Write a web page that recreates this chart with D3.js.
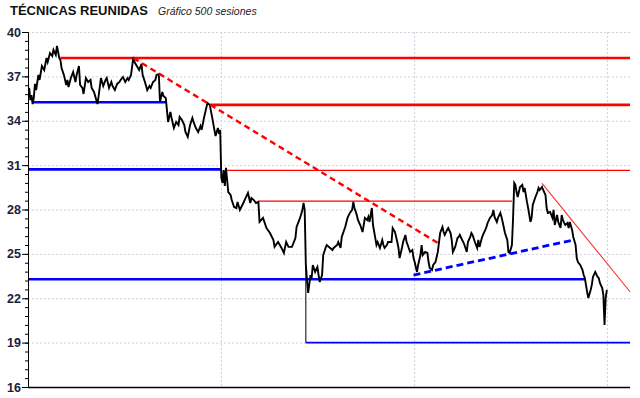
<!DOCTYPE html>
<html>
<head>
<meta charset="utf-8">
<script src="https://cdn.jsdelivr.net/npm/d3@7"></script>
<style>
  body { margin: 0; background: #fff; }
  svg { display: block; }
</style>
</head>
<body>
<div id="chart"></div>
<script>
const width = 640;
const height = 398;

// Price path, sessions 0..500 (approximate closes)
const sessions = [1,2,3,4,5,6,7,9,10,12,14,16,17,19,21,22,24,25,26,27,28,29,31,33,34,35,37,39,41,42,44,45,47,48,50,52,54,55,57,59,60,61,63,65,67,68,70,72,73,75,77,79,80,82,84,86,87,89,91,92,94,96,98,99,101,103,105,106,108,110,111,113,114,116,117,119,121,123,124,126,128,130,131,133,135,136,138,140,142,143,145,147,149,150,152,154,155,157,159,161,162,164,165,166,167,168,169,170,171,173,175,176,178,180,181,183,186,188,190,192,193,195,197,199,200,203,206,209,212,213,216,219,221,223,225,228,231,232,235,237,238,239,
  240,241,242,244,245,246,248,250,251,252,254,255,257,258,261,263,264,267,268,270,271,274,276,278,280,281,282,284,285,287,289,290,291,293,294,295,297,298,300,301,302,304,306,307,308,310,311,314,315,317,319,320,321,323,324,326,327,328,330,332,333,334,336,337,339,340,341,343,345,346,347,349,350,352,353,354,356,358,359,360,362,363,365,366,367,369,371,372,373,375,376,377,379,380,382,383,384,386,388,389,390,392,393,395,396,397,399,401,402,403,405,406,408,409,410,412,414,415,416,418,419,420,421,422,423,425,427,428,429,431,432,434,435,436,438,440,441,442,444,445,447,448,449,451,453,454,455,457,458,460,461,462,464,466,467,468,470,471,473,474,475,477,479,480,481,483,484,486,487,488,490,492,493,494,496,497,498,499,500];
const closes = [36.22,35.40,35.74,35.13,35.54,36.49,36.08,37.10,36.76,37.70,37.43,38.25,37.97,38.58,38.38,38.79,38.45,39.06,38.65,38.25,38.11,37.57,37.10,36.42,36.76,36.28,36.89,37.30,36.62,37.10,37.70,36.42,36.22,35.81,36.89,36.62,36.76,36.22,35.95,35.40,35.13,35.67,36.89,36.35,36.76,36.89,36.22,36.62,36.35,36.08,36.49,36.62,36.76,36.96,36.62,36.89,36.76,37.10,38.31,37.97,37.70,37.43,37.84,37.10,36.62,36.08,36.35,36.22,36.62,36.76,37.10,37.16,35.27,35.95,35.67,35.54,33.92,34.59,34.19,33.51,33.92,33.71,34.26,34.05,33.71,33.24,32.90,33.71,34.19,33.92,33.51,33.24,33.65,33.38,34.19,34.87,35.20,35.07,34.26,33.38,32.97,33.51,33.11,33.38,30.13,29.79,30.67,29.59,30.81,29.18,28.98,28.64,28.17,28.10,28.51,27.97,28.44,28.78,29.12,28.44,28.78,28.64,28.44,28.51,27.16,27.43,26.75,26.41,25.94,25.47,25.80,25.40,25.06,25.80,25.47,25.47,26.07,26.82,27.43,27.97,28.44,27.97,
  24.25,23.23,22.36,23.57,23.37,24.25,23.78,24.11,23.57,23.10,23.57,24.92,25.40,25.60,25.40,25.26,25.40,25.60,25.80,25.40,26.14,26.82,27.43,27.77,27.97,28.51,28.10,27.63,27.29,26.95,26.48,26.95,27.43,27.29,27.50,27.16,28.10,26.95,26.07,25.60,25.80,25.40,25.94,25.60,25.40,25.60,25.80,25.80,26.75,26.48,25.80,25.40,24.72,25.40,25.80,26.28,25.80,25.60,25.13,25.26,24.72,24.45,23.78,24.25,24.92,25.60,24.92,25.13,25.06,24.45,24.05,23.91,24.25,24.45,24.79,25.13,26.41,26.82,26.48,26.28,26.62,26.75,26.41,25.94,25.13,25.47,26.07,26.14,26.28,25.94,25.80,25.60,25.13,25.80,26.14,26.41,26.28,25.80,25.40,25.94,25.47,26.07,26.28,26.62,26.82,27.09,27.43,27.63,27.97,27.50,27.16,27.43,27.77,27.50,27.16,26.41,25.94,25.13,25.06,25.60,27.43,29.79,29.66,29.18,28.85,29.52,29.66,29.18,29.46,28.51,28.10,27.16,27.43,28.31,28.78,29.18,29.46,29.32,29.52,29.32,28.98,28.10,27.77,27.83,27.43,27.97,26.95,27.63,27.16,26.75,27.63,27.29,26.95,27.09,26.75,27.16,26.62,26.14,25.60,24.72,24.45,24.25,23.91,23.57,23.37,22.42,22.02,22.56,22.90,23.44,23.78,23.44,23.37,23.03,22.69,22.22,20.19,22.02,22.56];

// Horizontal levels: [fromSession, toSession, price]
const resistanceThick = [[28, 520, 38.24], [157, 520, 35.07]];
const supportThick = [[4, 120, 35.25], [0, 167, 30.71], [0, 481, 23.28]];
const resistanceThin = [[171, 520, 30.65], [199, 418, 28.56]];
const supportThin = [[240, 520, 19.0]];
// Trend lines: [session1, price1, session2, price2]
const downTrendDashed = [[91, 38.24, 354, 25.74]];
const upTrendDashed = [[333, 23.57, 471, 25.94]];
const downTrendThin = [[444, 29.77, 520, 22.44]];
const gapMarker = [[240, 24.25, 240, 19.0]];

// Axis values
const yTickValues = [16, 19, 22, 25, 28, 31, 34, 37, 40];
const gridSessions = [167, 333, 500];

const x = d3.scaleLinear().domain([0, 520]).range([28, 630]);
const y = d3.scaleLinear().domain([16, 40]).range([387, 32]);

const svg = d3.select("#chart")
    .append("svg")
    .attr("width", width)
    .attr("height", height)
    .style("font-family", "'Liberation Sans', Arial, sans-serif");

// Title
svg.append("text")
    .attr("x", 10)
    .attr("y", 15)
    .style("font-size", "13px")
    .style("font-weight", "bold")
    .attr("fill", "#111")
    .text("TÉCNICAS REUNIDAS");

svg.append("text")
    .attr("x", 158)
    .attr("y", 15)
    .style("font-size", "10.5px")
    .style("font-style", "italic")
    .attr("fill", "#222")
    .text("Gráfico 500 sesiones");

// Grid
svg.append("g")
    .selectAll("line")
    .data(yTickValues.filter(d => d > 16))
    .enter()
    .append("line")
    .attr("x1", x(0))
    .attr("x2", x(520))
    .attr("y1", d => y(d) + 0.5)
    .attr("y2", d => y(d) + 0.5)
    .attr("stroke", "#d6d0e0")
    .attr("stroke-dasharray", "2,2");

svg.append("g")
    .selectAll("line")
    .data(gridSessions)
    .enter()
    .append("line")
    .attr("x1", d => Math.round(x(d)) + 0.5)
    .attr("x2", d => Math.round(x(d)) + 0.5)
    .attr("y1", y(40))
    .attr("y2", y(16))
    .attr("stroke", "#d0d2dc")
    .attr("stroke-dasharray", "2,2");

// Horizontal levels
function drawLevels(data, color, w) {
    svg.append("g")
        .selectAll("line")
        .data(data)
        .enter()
        .append("line")
        .attr("x1", d => x(d[0]))
        .attr("x2", d => x(d[1]))
        .attr("y1", d => y(d[2]))
        .attr("y2", d => y(d[2]))
        .attr("stroke", color)
        .attr("stroke-width", w);
}

function drawTrends(data, color, w, dash) {
    svg.append("g")
        .selectAll("line")
        .data(data)
        .enter()
        .append("line")
        .attr("x1", d => x(d[0]))
        .attr("y1", d => y(d[1]))
        .attr("x2", d => x(d[2]))
        .attr("y2", d => y(d[3]))
        .attr("stroke", color)
        .attr("stroke-width", w)
        .attr("stroke-dasharray", dash);
}

drawLevels(resistanceThick, "#ff0000", 2.6);
drawLevels(supportThick, "#0000ff", 2.6);
drawLevels(resistanceThin, "#ff0000", 1.3);
drawLevels(supportThin, "#0000ff", 1.6);
drawTrends(gapMarker, "#000", 1, null);

// Price
const priceData = sessions.map((s, i) => ({ s: s, v: closes[i] }));
svg.append("path")
    .datum(priceData)
    .attr("fill", "none")
    .attr("stroke", "#000")
    .attr("stroke-width", 1.9)
    .attr("stroke-linejoin", "miter")
    .attr("d", d3.line().x(d => x(d.s)).y(d => y(d.v)));

drawTrends(downTrendDashed, "#ff0000", 2.4, "6,4");
drawTrends(upTrendDashed, "#0000ff", 2.8, "7,4");
drawTrends(downTrendThin, "#ff3030", 1.1, null);

// Axes
svg.append("g")
    .attr("transform", `translate(${x(0)},0)`)
    .call(d3.axisLeft(y)
        .tickValues(d3.range(0, 41).map(i => 16 + i * 0.6))
        .tickFormat("")
        .tickSize(3)
        .tickSizeOuter(0));

const yAxis = svg.append("g")
    .attr("transform", `translate(${x(0)},0)`)
    .call(d3.axisLeft(y)
        .tickValues(yTickValues)
        .tickSize(6)
        .tickSizeOuter(0)
        .tickPadding(1));

yAxis.selectAll("text")
    .style("font-family", "'Liberation Sans', Arial, sans-serif")
    .style("font-size", "12.5px")
    .style("font-weight", "bold")
    .attr("fill", "#1c1c3c");

svg.selectAll(".domain").attr("stroke", "#000");

svg.append("line")
    .attr("x1", x(0))
    .attr("x2", x(520))
    .attr("y1", y(16) + 0.5)
    .attr("y2", y(16) + 0.5)
    .attr("stroke", "#000")
    .attr("stroke-width", 1.5);
</script>
</body>
</html>
